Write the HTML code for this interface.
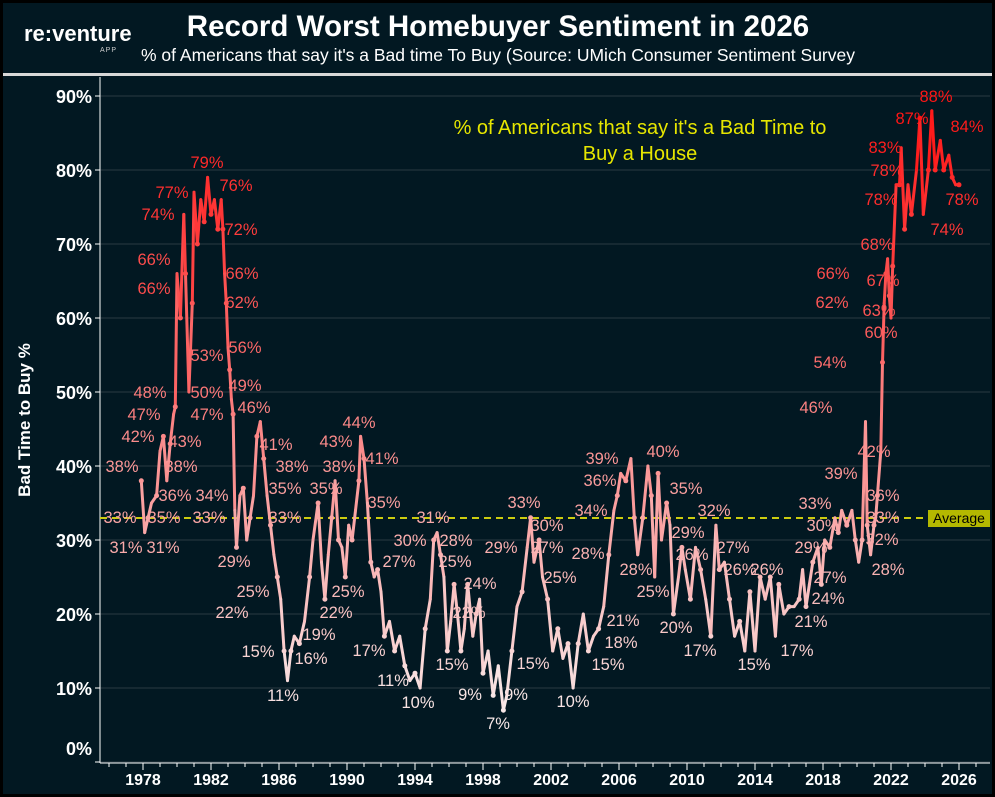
<!DOCTYPE html>
<html><head><meta charset="utf-8"><style>
body{margin:0;background:#fff;}
svg{display:block;font-family:"Liberation Sans",sans-serif;}
</style></head><body>
<svg id="c" width="995" height="797" xmlns="http://www.w3.org/2000/svg">
<rect x="0" y="0" width="995" height="797" fill="#000"/>
<rect x="3" y="3" width="989" height="791" fill="#021822"/>
<rect x="3" y="73" width="989" height="3" fill="#d8d8d8"/>
<text x="24" y="41" fill="#fff" font-size="22" font-weight="bold">re:venture</text>
<text x="117" y="52" fill="#ccc" font-size="7" text-anchor="end" letter-spacing="1">APP</text>
<text x="498" y="36" fill="#fff" font-size="29.5" font-weight="bold" text-anchor="middle">Record Worst Homebuyer Sentiment in 2026</text>
<text x="498" y="61" fill="#fff" font-size="17.5" text-anchor="middle">% of Americans that say it's a Bad time To Buy (Source: UMich Consumer Sentiment Survey</text>
<g id="grid"></g>
<line x1="100" y1="77" x2="100" y2="763" stroke="#fff" stroke-width="1"/>
<line x1="100" y1="763" x2="990" y2="763" stroke="#fff" stroke-width="1"/>
<text transform="translate(30,420) rotate(-90)" fill="#fff" font-size="17" font-weight="bold" text-anchor="middle">Bad Time to Buy %</text>
<text x="640" y="134" fill="#e6e600" font-size="20" text-anchor="middle">% of Americans that say it's a Bad Time to</text>
<text x="640" y="160" fill="#e6e600" font-size="20" text-anchor="middle">Buy a House</text>
<line x1="100" y1="518" x2="928" y2="518" stroke="#cccc10" stroke-width="2" stroke-dasharray="7,5"/>
<g id="series"></g>
<g id="labels"></g>
<rect x="928" y="510" width="62" height="17" fill="#b4b800"/>
<text x="959" y="523" fill="#000" font-size="14" text-anchor="middle">Average</text>
</svg>
<script>
var NS="http://www.w3.org/2000/svg";
function el(t,a,p,txt){var e=document.createElementNS(NS,t);for(var k in a)e.setAttribute(k,a[k]);if(txt!=null)e.textContent=txt;document.getElementById(p).appendChild(e);return e;}
function X(y){return 143+17*(y-1978);}
function Y(v){return 762-7.4*v;}
for(var v=0;v<=90;v+=10){
 el("line",{x1:100,x2:990,y1:Y(v),y2:Y(v),stroke:"#1c2f38","stroke-width":1.5},"grid");
 el("line",{x1:95,x2:100,y1:Y(v),y2:Y(v),stroke:"#fff"},"grid");
 el("text",{x:92,y:(v==0?755:Y(v)+7),fill:"#fff","font-size":18,"font-weight":"bold","text-anchor":"end"},"grid",v+"%");
}
for(var yr=1976;yr<=2027;yr++){var x=X(yr);if(x<100||x>990)continue;
 el("line",{x1:x,x2:x,y1:763,y2:yr%4==2?770:767,stroke:"#fff"},"grid");
 if(yr%4==2)el("text",{x:x,y:785,fill:"#fff","font-size":16,"font-weight":"bold","text-anchor":"middle"},"grid",yr);}
var d=[1977.9,38,1978.1,31,1978.3,33,1978.5,35,1978.8,36,1979.0,42,1979.2,44,1979.4,38,1979.6,43,1979.8,47,1979.9,48,1980.0,66,1980.2,60,1980.4,74,1980.5,66,1980.7,50,1980.9,62,1981.0,77,1981.2,70,1981.4,76,1981.6,73,1981.8,79,1982.0,74,1982.2,76,1982.4,72,1982.6,76,1982.7,72,1982.8,66,1982.9,62,1983.0,56,1983.1,53,1983.2,49,1983.3,47,1983.4,34,1983.5,29,1983.7,36,1983.9,37,1984.1,30,1984.3,33,1984.5,36,1984.7,44,1984.9,46,1985.1,41,1985.3,36,1985.5,32,1985.7,28,1985.9,25,1986.1,22,1986.3,15,1986.5,11,1986.7,15,1986.9,17,1987.2,16,1987.5,19,1987.8,25,1988.0,30,1988.3,35,1988.5,27,1988.7,22,1988.9,28,1989.1,33,1989.3,38,1989.5,30,1989.7,29,1989.9,25,1990.1,32,1990.3,30,1990.5,34,1990.7,38,1990.8,44,1991.0,41,1991.2,35,1991.4,27,1991.6,25,1991.8,26,1992.0,23,1992.2,17,1992.5,19,1992.8,15,1993.1,17,1993.4,13,1993.7,11,1994.0,12,1994.3,10,1994.6,18,1994.9,22,1995.1,30,1995.3,31,1995.5,28,1995.7,25,1995.9,15,1996.1,19,1996.3,24,1996.5,20,1996.7,15,1996.9,18,1997.1,24,1997.4,17,1997.6,20,1997.8,22,1998.0,12,1998.3,15,1998.6,9,1998.9,13,1999.2,7,1999.4,9,1999.7,15,2000.0,21,2000.3,23,2000.6,29,2000.8,33,2001.0,27,2001.3,30,2001.5,25,2001.8,22,2002.1,15,2002.4,18,2002.7,14,2003.0,16,2003.3,10,2003.6,16,2003.9,20,2004.2,15,2004.5,17,2004.8,18,2005.1,21,2005.4,28,2005.7,34,2005.9,36,2006.1,39,2006.4,38,2006.7,41,2006.9,33,2007.1,28,2007.4,33,2007.7,40,2007.9,36,2008.1,25,2008.3,39,2008.5,30,2008.8,35,2009.0,32,2009.2,20,2009.5,25,2009.7,29,2009.9,26,2010.2,22,2010.5,29,2010.8,26,2011.1,22,2011.4,17,2011.7,32,2011.9,26,2012.2,27,2012.5,22,2012.8,17,2013.1,19,2013.4,15,2013.7,23,2014.0,15,2014.3,25,2014.6,22,2014.9,25,2015.2,17,2015.4,24,2015.7,20,2016.0,21,2016.3,21,2016.6,22,2016.8,26,2017.0,21,2017.2,24,2017.4,27,2017.7,29,2017.9,24,2018.1,30,2018.4,29,2018.7,33,2018.9,31,2019.1,34,2019.4,32,2019.7,34,2019.9,30,2020.1,27,2020.3,30,2020.5,46,2020.6,32,2020.8,28,2021.0,32,2021.1,33,2021.2,36,2021.4,42,2021.5,54,2021.6,62,2021.7,66,2021.8,68,2021.9,63,2022.0,60,2022.1,67,2022.3,78,2022.5,78,2022.6,83,2022.8,72,2023.0,78,2023.2,74,2023.5,80,2023.7,87,2023.9,74,2024.2,80,2024.4,88,2024.6,80,2024.9,84,2025.1,80,2025.4,82,2025.6,79,2025.8,78,2026.0,78];
function col(v){var t=Math.max(0,Math.min(1,(v-8)/78));var a=[248,232,232],b=[255,22,22];
 return "rgb("+a.map(function(c,i){return Math.round(c+(b[i]-c)*t)}).join(",")+")";}
for(var i=0;i+3<d.length;i+=2){
 el("line",{x1:X(d[i]),y1:Y(d[i+1]),x2:X(d[i+2]),y2:Y(d[i+3]),stroke:col((d[i+1]+d[i+3])/2),"stroke-width":3,"stroke-linecap":"round"},"series");}
for(var i=0;i<d.length;i+=4){el("circle",{cx:X(d[i]),cy:Y(d[i+1]),r:2.5,fill:col(d[i+1])},"series");}
var L=[[122,466,38],[126,547,31],[120,517,33],[164,517,35],[163,547,31],[138,436,42],[144,414,47],[150,392,48],[175,495,36],[181,466,38],[185,441,43],[154,259,66],[154,288,66],[158,214,74],[172,192,77],[207,162,79],[236,185,76],[241,229,72],[242,273,66],[242,302,62],[245,347,56],[207,355,53],[207,392,50],[245,385,49],[207,414,47],[212,495,34],[209,517,33],[234,561,29],[254,407,46],[276,444,41],[292,466,38],[285,488,35],[285,517,33],[253,591,25],[232,612,22],[258,651,15],[283,695,11],[319,634,19],[311,658,16],[326,488,35],[339,466,38],[336,441,43],[359,422,44],[382,458,41],[384,502,35],[336,612,22],[348,591,25],[399,561,27],[369,650,17],[393,680,11],[418,702,10],[410,540,30],[433,517,31],[456,540,28],[455,561,25],[452,664,15],[480,583,24],[469,612,22],[501,547,29],[470,694,9],[498,723,7],[516,694,9],[524,502,33],[547,525,30],[547,547,27],[560,577,25],[533,663,15],[573,701,10],[588,553,28],[591,510,34],[600,480,36],[602,458,39],[621,642,18],[623,620,21],[608,664,15],[636,569,28],[663,451,40],[653,591,25],[686,488,35],[688,532,29],[692,554,26],[676,627,20],[714,510,32],[733,547,27],[740,569,26],[700,650,17],[754,664,15],[767,569,26],[811,547,29],[823,525,30],[815,503,33],[830,577,27],[828,598,24],[811,621,21],[797,650,17],[816,407,46],[841,473,39],[883,495,36],[883,517,33],[882,539,32],[888,569,28],[874,451,42],[830,362,54],[832,302,62],[833,273,66],[877,244,68],[883,280,67],[879,310,63],[881,332,60],[881,199,78],[887,170,78],[885,147,83],[912,118,87],[936,96,88],[967,126,84],[947,229,74],[962,199,78]];
L.forEach(function(l){el("text",{x:l[0],y:l[1]+6,fill:col(l[2]),"font-size":16.5,"text-anchor":"middle"},"labels",l[2]+"%");});
</script>
</body></html>
